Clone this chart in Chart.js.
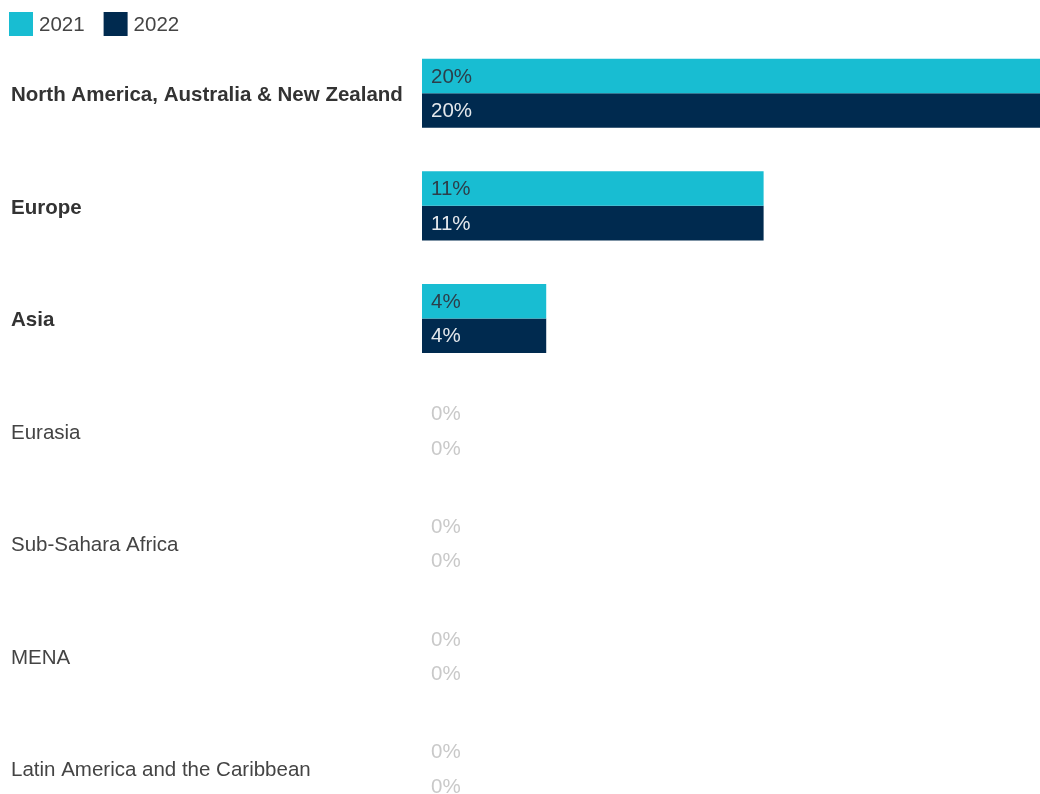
<!DOCTYPE html>
<html>
<head>
<meta charset="utf-8">
<title>Share by region, 2021 vs 2022</title>
<script src="https://cdn.jsdelivr.net/npm/chart.js@4/dist/chart.umd.min.js"></script>
<style>
  html, body { margin: 0; padding: 0; background: #fff; overflow: hidden; }
  #wrap { width: 1040px; height: 794px; overflow: hidden; }
  canvas { display: block; }
</style>
</head>
<body>
<div id="wrap"><canvas id="chart" width="1040" height="845"></canvas></div>
<script>
// Regions and yearly shares (percent)
const regions = [
  'North America, Australia & New Zealand',
  'Europe',
  'Asia',
  'Eurasia',
  'Sub-Sahara Africa',
  'MENA',
  'Latin America and the Caribbean'
];
const seriesNames = ['2021', '2022'];
const share2021 = [20, 11, 4, 0, 0, 0, 0];
const share2022 = [20, 11, 4, 0, 0, 0, 0];
const axisMax = 19.9;

const FONT = '"Liberation Sans", Arial, Helvetica, sans-serif';
const FONT_SIZE = 20.5;
const COLORS = ['#18bdd2', '#002a4f'];

// Nudge the category labels down so their caps sit centred on each bar pair
const labelNudge = {
  id: 'labelNudge',
  beforeDraw(chart) {
    chart.ctx.save();
    chart.ctx.translate(0, 2);
  },
  beforeDatasetsDraw(chart) {
    chart.ctx.restore();
  }
};

// Legend row drawn along the top edge
const topLegend = {
  id: 'topLegend',
  afterDraw(chart) {
    const ctx = chart.ctx;
    ctx.save();
    ctx.font = `${FONT_SIZE}px ${FONT}`;
    ctx.textBaseline = 'middle';
    ctx.textAlign = 'left';
    let x = 9;
    chart.data.datasets.forEach(ds => {
      ctx.fillStyle = ds.backgroundColor;
      ctx.fillRect(x, 12, 24, 24);
      ctx.fillStyle = '#444';
      ctx.fillText(ds.label, x + 30, 25);
      x += 30 + ctx.measureText(ds.label).width + 19;
    });
    ctx.restore();
  }
};

// Value labels placed at the start of each bar
const valueLabels = {
  id: 'valueLabels',
  afterDatasetsDraw(chart) {
    const ctx = chart.ctx;
    const x0 = chart.scales.x.getPixelForValue(0) + 9;
    ctx.save();
    ctx.font = `${FONT_SIZE}px ${FONT}`;
    ctx.textBaseline = 'middle';
    ctx.textAlign = 'left';
    chart.data.datasets.forEach((ds, di) => {
      const meta = chart.getDatasetMeta(di);
      meta.data.forEach((bar, i) => {
        const v = ds.data[i];
        if (v === 0) ctx.fillStyle = '#c9c9c9';
        else ctx.fillStyle = di === 0 ? '#2c3e4a' : '#e4e8ec';
        ctx.fillText(v + '%', x0, bar.y + 1);
      });
    });
    ctx.restore();
  }
};

new Chart(document.getElementById('chart'), {
  type: 'bar',
  data: {
    labels: regions,
    datasets: [
      { label: seriesNames[0], data: share2021, backgroundColor: COLORS[0] },
      { label: seriesNames[1], data: share2022, backgroundColor: COLORS[1] }
    ]
  },
  options: {
    indexAxis: 'y',
    responsive: false,
    animation: false,
    devicePixelRatio: 1,
    layout: { padding: { top: 37, left: 11, right: 0, bottom: 20 } },
    datasets: { bar: { barPercentage: 1, categoryPercentage: 0.6136, borderWidth: 0 } },
    plugins: { legend: { display: false }, tooltip: { enabled: false } },
    scales: {
      x: { display: false, min: 0, max: axisMax },
      y: {
        grid: { display: false },
        border: { display: false },
        afterFit(scale) { scale.width = 411; },
        ticks: {
          crossAlign: 'far',
          padding: 0,
          color: ctx => (share2022[ctx.index] > 0 || share2021[ctx.index] > 0) ? '#333' : '#444',
          font: ctx => ({
            family: FONT,
            size: FONT_SIZE,
            weight: (share2022[ctx.index] > 0 || share2021[ctx.index] > 0) ? 'bold' : 'normal'
          })
        }
      }
    }
  },
  plugins: [labelNudge, topLegend, valueLabels]
});
</script>
</body>
</html>
